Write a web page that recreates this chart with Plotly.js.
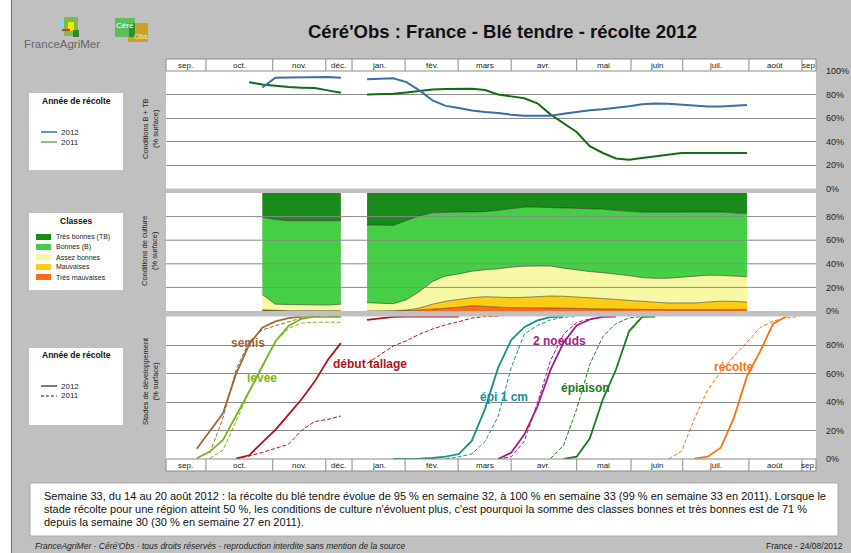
<!DOCTYPE html>
<html>
<head>
<meta charset="utf-8">
<script src="https://cdn.plot.ly/plotly-3.0.1.min.js"></script>
<style>
html,body{margin:0;padding:0;background:#c0c0c0;}
#chart{width:851px;height:553px;}
</style>
</head>
<body>
<div id="chart"></div>
<script>
// ---------------- DATA ----------------
// x unit: week index (2011 weeks as is, 2012 weeks = 52 + week number)
const monthLabelsTop = ['sep.','oct.','nov.','déc.','jan.','fév.','mars','avr.','mai','juin','juil.','août','sep'];
const monthLabelsBottom = ['sep.','oct.','nov.','déc.','jan.','fév.','mars','avr.','mai','juin','juil.','août','sep.'];
const monthEdges = [37.65, 40.7, 45.8, 49.85, 51.85, 55.9, 59.95, 64.0, 69.0, 73.15, 77.1, 82.15, 86.2, 87.27];

// Panel 1 : Conditions B + TB
const weeksCond = [44,45,46,47,48,49,50,51,52,53,54,55,56,57,58,59,60,61,62,63,64,65,66,67,68,69,70,71,72,73,74,75,76,77,78,79,80,81,82];
const bt2012 = [null,86,94.2,94.5,94.7,94.9,95,94.2,null,93,93.5,93.8,90.5,83.5,74.9,70.3,68.6,66.3,65.1,64.3,62.8,62,61.9,61.9,63.7,65.4,66.6,67.5,68.5,70,71.7,72.3,72.2,71.4,70.9,69.7,69.8,70.5,71];
const bt2011 = [90.5,88.5,87.5,86.3,85.8,85.5,83.5,81.4,null,80,80.3,80.7,81.8,82.9,84.3,84.6,84.8,84.8,83.8,80,78.4,76.8,72.5,63.1,55.5,48.1,36,30.2,25.5,24.5,26,27.6,29.1,30.2,30.2,30.2,30.2,30.2,30.2];

// Panel 2 : Conditions de culture (2012), two periods
const classNames = ['Très mauvaises','Mauvaises','Assez bonnes','Bonnes (B)','Très bonnes (TB)'];
const classLegend = ['Très bonnes (TB)','Bonnes (B)','Assez bonnes','Mauvaises','Très mauvaises'];
const weeksP1 = [45,46,47,48,49,50,51];
const tm1 = [0.5,0,0,0,0,0,0];
const m1  = [0.5,0.3,0.2,0.2,0.2,0.2,0.2];
const ab1 = [13,5.5,5.3,5.1,4.9,4.8,5.6];
const b1  = [65.4,71.7,71,71.2,71.4,71.5,70.7];
const tb1 = [20.6,22.5,23.5,23.5,23.5,23.5,23.5];
const weeksP2 = [53,54,55,56,57,58,59,60,61,62,63,64,65,66,67,68,69,70,71,72,73,74,75,76,77,78,79,80,81,82];
const tm2 = [0,0,0,0.3,0.8,1.5,2.3,3.2,4.5,4,3,2.8,2.8,2.8,2.8,2.6,2.3,1.9,1.7,1.3,1.1,1.1,1.1,1.1,1.1,1.1,1.1,1.1,1.1,1.1];
const m2  = [0,0,0.2,0.5,1.7,4.3,6,6.6,6.8,8.1,8.7,8.6,8.8,9.5,9.9,9.9,9.8,9.3,8.9,8.3,7.7,7.1,6.4,5.7,5.7,5.7,6.5,7.2,7.1,6.5];
const ab2 = [7,6.5,6,8.7,14,19.3,21.4,21.6,22.4,22.8,24,25.8,26.4,25.8,25.4,23.8,22.5,22.2,21.9,21.9,21.2,20.1,20.2,21,21.8,22.3,22.7,21.9,21.3,21.4];
const b2  = [65.9,66.2,66.3,67.2,64,58.1,54.1,52.6,50.3,49.3,49.6,49.8,50.1,49.9,49.6,51.1,52.5,53.4,53.8,53.8,54.5,55.5,56.1,56.1,55.4,55,53.9,53.7,53.7,53.6];
const tb2 = [27.1,27.3,27.5,23.3,19.5,16.8,16.2,16,16,15.8,14.7,13,11.9,12,12.3,12.6,12.9,13.2,13.7,14.7,15.5,16.2,16.2,16.1,16,15.9,15.8,16.1,16.8,17.4];

// Panel 3 : Stades de développement
const semisW12 = [40,41,42,43,44,45,46,47,48,49,50,51];
const semis12  = [7.2,19.6,32,59.7,80.3,92.2,96.6,98.9,100,100,100,100];
const semisW11 = [41,42,43,44,45,46,47,48,49,50,51];
const semis11  = [4.1,28.8,62.8,82.4,90.6,93.7,96.3,98.9,100,100,100];
const leveeW12 = [40,41,42,43,44,45,46,47,48,49,50,51];
const levee12  = [0.5,5.2,13.4,29.9,47.4,64.9,82.4,93.4,98.4,100,100,100];
const leveeW11 = [41,42,43,44,45,46,47,48,49,50,51];
const levee11  = [0.5,6.2,26.5,47.4,65.9,82.4,91.7,95.3,96,96,96];
const tallageW12 = [43,44,45,46,47,48,49,50,51,52,53,54,55,56,57,58,59,60];
const tallage12  = [0.3,2.6,11.7,20.4,31.1,41.9,54.3,69.5,81.3,null,97.6,98.9,99.7,100,100,100,100,100];
const tallageW11 = [43,44,45,46,47,48,49,50,51,52,53,54,55,56,57,58,59,60,61,62,63];
const tallage11  = [0.3,2.1,4.6,7.7,10.3,20.1,26.3,27.8,30.2,null,67,73.1,79.3,82.9,87.6,91.2,94.2,96.3,98.9,100,100];
const epiW12 = [55,56,57,58,59,60,61,62,63,64,65,66,67,68];
const epi12  = [0,0,0.3,0.7,1.6,3.5,12.9,35,63.9,83.4,92.5,97.3,99.5,100];
const epiW11 = [59,60,61,62,63,64,65,66,67,68,69];
const epi11  = [0,1.5,3.6,12.2,29.9,63.9,87.6,93.7,97.6,99.5,100];
const noeudsW12 = [63,64,65,66,67,68,69,70,71,72];
const noeuds12  = [0,4.4,17.1,36.8,62.5,81.7,93.7,97.9,99.7,100];
const noeudsW11 = [63,64,65,66,67,68,69,70,71];
const noeuds11  = [0,1.5,12.4,39.1,69,87.6,95.8,98.4,100];
const epiaisonW12 = [68,69,70,71,72,73,74,75];
const epiaison12  = [0,1.6,14.4,41.9,62.8,89.6,99.7,100];
const epiaisonW11 = [67,68,69,70,71,72,73,74];
const epiaison11  = [0.3,9.6,35,66.4,85.9,95.1,99,100];
const recolteW12 = [78,79,80,81,82,83,84,85];
const recolte12  = [0.3,1.6,7.9,28.8,58.1,75.4,95,100];
const recolteW11 = [76,77,78,79,80,81,82,83,84,85,86];
const recolte11  = [0,5.4,28.5,48.4,61.3,72.1,81.9,92.2,96.8,99,100];

const stageNames = ['semis','levée','début tallage','épi 1 cm','2 noeuds','épiaison','récolte'];

const commentLines = [
  'Semaine 33, du 14 au 20 août 2012 : la récolte du blé tendre évolue de 95 % en semaine 32, à 100 % en semaine 33 (99 % en semaine 33 en 2011). Lorsque le',
  'stade récolte pour une région atteint 50 %, les conditions de culture n\'évoluent plus, c\'est pourquoi la somme des classes bonnes et très bonnes est de 71 %',
  'depuis la semaine 30 (30 % en semaine 27 en 2011).'
];

// ---------------- STYLE / LAYOUT HELPERS ----------------
const W = 851, H = 553;
const PX = v => v / W;
const PY = v => 1 - v / H;
const FONT = 'Liberation Sans, Arial, sans-serif';

const colBlue = '#3a6ea6', colGreen = '#0f6e12';
const classColors = ['#ff6a1c', '#ffcc14', '#f6f8a4', '#46cf46', '#1a8a1a'];
const stageColors = ['#9b6a3b', '#7ab51d', '#b11218', '#16908e', '#a01e82', '#1c7a1c', '#ff6f0f'];

const traces = [];
function line(x, y, yax, color, width, dash) {
  traces.push({x: x, y: y, type: 'scatter', mode: 'lines', xaxis: 'x', yaxis: yax,
    line: {color: color, width: width, dash: dash || 'solid'}, connectgaps: false,
    hoverinfo: 'skip', showlegend: false});
}
// Panel 1
line(weeksCond, bt2011, 'y', colGreen, 2);
line(weeksCond, bt2012, 'y', colBlue, 2);

// Panel 2
function stack(x, series, group) {
  series.forEach((s, i) => {
    traces.push({x: x, y: s, type: 'scatter', mode: 'lines', xaxis: 'x', yaxis: 'y2',
      stackgroup: group, fillcolor: classColors[i], name: classNames[i],
      line: {color: i === 4 ? 'rgba(0,0,0,0)' : 'rgba(35,35,35,0.75)', width: i === 4 ? 0 : 0.7},
      hoverinfo: 'skip', showlegend: false});
  });
}
stack(weeksP1, [tm1, m1, ab1, b1, tb1], 'p1');
stack(weeksP2, [tm2, m2, ab2, b2, tb2], 'p2');

// Panel 3
const DASH = '4px,2px';
const stagesData = [
  [semisW12, semis12, semisW11, semis11],
  [leveeW12, levee12, leveeW11, levee11],
  [tallageW12, tallage12, tallageW11, tallage11],
  [epiW12, epi12, epiW11, epi11],
  [noeudsW12, noeuds12, noeudsW11, noeuds11],
  [epiaisonW12, epiaison12, epiaisonW11, epiaison11],
  [recolteW12, recolte12, recolteW11, recolte11]
];
stagesData.forEach((d, i) => {
  line(d[2], d[3], 'y3', stageColors[i], 1, DASH);
  line(d[0], d[1], 'y3', stageColors[i], 1.8);
});

// ---------------- SHAPES ----------------
const shapes = [];
const rect = (x0, y0, x1, y1, fill, lc, lw) => shapes.push({type: 'rect', xref: 'paper', yref: 'paper',
  x0: PX(x0), x1: PX(x1), y0: PY(y1), y1: PY(y0), fillcolor: fill, line: {color: lc || fill, width: lw || 0}});
const seg = (x0, y0, x1, y1, color, width, dash) => shapes.push({type: 'line', xref: 'paper', yref: 'paper',
  x0: PX(x0), x1: PX(x1), y0: PY(y0), y1: PY(y1), line: {color: color, width: width, dash: dash || 'solid'}});

// page frame
rect(0, 0, 11, 553, '#ffffff');
seg(11.5, 0, 11.5, 553, '#6e6e6e', 1);

// logos
rect(60, 19, 67, 27, '#8fd3ee');
rect(64, 17, 78, 36, '#7dbb4a');
rect(68, 22, 74, 31, '#f2e600');
rect(62, 29, 70, 31, '#d23a2a');
rect(73, 30, 79, 37, '#2c8a2c');
rect(128, 23, 148, 42, '#c9a227');
rect(115, 18, 135, 37, '#5cbf5c');
rect(129, 23, 135, 37, '#2f8f2f');

// legend boxes
rect(29, 93, 123, 170, '#ffffff');
rect(29, 213, 123, 290, '#ffffff');
rect(29, 348, 123, 425, '#ffffff');
seg(41, 132, 57, 132, colBlue, 1.5);
seg(41, 142, 57, 142, '#6aad6a', 1.5);
const legRows = [237, 247, 257, 267, 277];
legRows.forEach((y, i) => rect(36, y - 3, 51, y + 3, classColors[4 - i]));
seg(41, 386, 57, 386, '#222', 1.2);
seg(41, 396, 57, 396, '#222', 1, '3px,2px');

// month header rows
[[59, 71], [459, 471]].forEach(r => {
  rect(166, r[0], 816, r[1], '#ffffff', '#8a8a8a', 1);
  monthEdges.slice(1, -1).forEach(e => shapes.push({type: 'line', xref: 'x', yref: 'paper',
    x0: e, x1: e, y0: PY(r[0]), y1: PY(r[1]), line: {color: '#8a8a8a', width: 1}}));
});

// gridlines above the stacked areas
[20, 40, 60, 80].forEach(v => shapes.push({type: 'line', xref: 'paper', yref: 'y2',
  x0: PX(166), x1: PX(816), y0: v, y1: v, line: {color: '#8a8a8a', width: 1}, layer: 'above'}));

// comment box
rect(30, 483, 838, 536, '#ffffff', '#a8a8a8', 1);

// ---------------- ANNOTATIONS ----------------
const ann = [];
const txt = (x, y, text, size, color, opts) => ann.push(Object.assign({xref: 'paper', yref: 'paper',
  x: PX(x), y: PY(y), text: text, showarrow: false, xanchor: 'center', yanchor: 'middle',
  font: {family: FONT, size: size, color: color}}, opts || {}));

txt(502, 32, '<b>Céré\'Obs : France - Blé tendre - récolte 2012</b>', 18.5, '#111');
txt(62, 44, 'FranceAgriMer', 11.5, '#666');
txt(125, 26, 'Céré', 8, '#ffffff');
txt(141, 37, 'Obs', 7.5, '#ffe9b0');

// axis titles
txt(150, 129, 'Conditions B + TB<br>(% surface)', 7.5, '#222', {textangle: -90});
txt(150, 251, 'Conditions de culture<br>(% surface)', 7.5, '#222', {textangle: -90});
txt(150, 381, 'Stades de développement<br>(% surface)', 7.5, '#222', {textangle: -90});

// legends text
txt(76, 101, '<b>Année de récolte</b>', 8.5, '#111');
txt(59, 132, '2012', 8, '#222', {xanchor: 'left'});
txt(59, 142, '2011', 8, '#222', {xanchor: 'left'});
txt(76, 221, '<b>Classes</b>', 8.5, '#111');
legRows.forEach((y, i) => txt(54, y, classLegend[i], 7, '#222', {xanchor: 'left'}));
txt(76, 355, '<b>Année de récolte</b>', 8.5, '#111');
txt(59, 386, '2012', 8, '#222', {xanchor: 'left'});
txt(59, 396, '2011', 8, '#222', {xanchor: 'left'});

// month labels
[[65, monthLabelsTop], [465, monthLabelsBottom]].forEach(r => {
  r[1].forEach((m, i) => ann.push({xref: 'x', yref: 'paper', x: (monthEdges[i] + monthEdges[i + 1]) / 2,
    y: PY(r[0]), text: m, showarrow: false, xanchor: 'center', yanchor: 'middle',
    font: {family: FONT, size: 8, color: '#222'}}));
});

// stage labels
const stagePos = [[248, 343], [261.5, 377.5], [369.7, 364.3], [504, 397], [559, 341], [585.5, 388.3], [733.5, 366.7]];
stageNames.forEach((s, i) => txt(stagePos[i][0], stagePos[i][1], '<b>' + s + '</b>', 12, stageColors[i]));

// comment text
const commentY = [496, 509, 522];
commentLines.forEach((l, i) => txt(42, commentY[i], l, 11, '#111', {xanchor: 'left'}));

// footer
txt(33, 546, '<i>FranceAgriMer - Céré\'Obs - tous droits réservés - reproduction interdite sans mention de la source</i>', 8.5, '#222', {xanchor: 'left'});
txt(845, 546, 'France - 24/08/2012', 8.5, '#222', {xanchor: 'right'});

// ---------------- AXES ----------------
const pct = v => v + '%';
const yBase = {range: [0, 100], side: 'right', anchor: 'x', zeroline: false, ticks: '',
  showline: false, ticklabelstandoff: 9, tickfont: {family: FONT, size: 9, color: '#222'},
  gridcolor: '#8a8a8a', gridwidth: 1, fixedrange: true};
const ticksTop = [0, 20, 40, 60, 80, 100];
const ticksLow = [0, 20, 40, 60, 80];

const layout = {
  width: W, height: H,
  margin: {l: 0, r: 0, t: 0, b: 0},
  paper_bgcolor: '#c0c0c0',
  plot_bgcolor: '#ffffff',
  font: {family: FONT, size: 9, color: '#222'},
  showlegend: false,
  xaxis: {domain: [PX(166), PX(816)], range: [monthEdges[0], monthEdges[monthEdges.length - 1]],
    showgrid: false, showticklabels: false, ticks: '', zeroline: false, showline: false, fixedrange: true},
  yaxis: Object.assign({}, yBase, {domain: [PY(188.5), PY(71)], tickvals: ticksTop, ticktext: ticksTop.map(pct), showgrid: true}),
  yaxis2: Object.assign({}, yBase, {domain: [PY(311), PY(193)], tickvals: ticksLow, ticktext: ticksLow.map(pct), showgrid: false}),
  yaxis3: Object.assign({}, yBase, {domain: [PY(459), PY(316.5)], tickvals: ticksLow, ticktext: ticksLow.map(pct), showgrid: true}),
  shapes: shapes,
  annotations: ann
};

Plotly.newPlot('chart', traces, layout, {staticPlot: true, displayModeBar: false});
</script>
</body>
</html>
